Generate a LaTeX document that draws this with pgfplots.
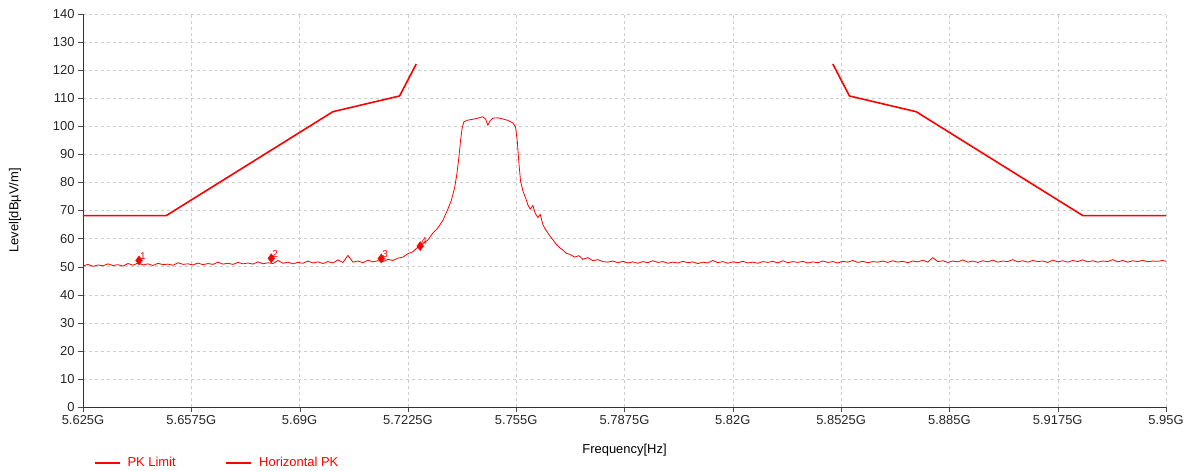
\documentclass[border=0pt]{standalone}
\usepackage{pgfplots}
\pgfplotsset{compat=1.18}
\usepackage{fontspec}
\setmainfont{Liberation Sans}

\definecolor{trace}{RGB}{255,0,0}
\definecolor{gridgray}{RGB}{205,205,205}

\begin{document}
\begin{tikzpicture}
\useasboundingbox (-83bp,-64bp) rectangle (1107bp,407bp);
\begin{axis}[
    scale only axis,
    width=1083bp, height=393bp,
    xmin=5.625, xmax=5.95,
    ymin=0, ymax=140,
    xtick={5.625,5.6575,5.69,5.7225,5.755,5.7875,5.82,5.8525,5.885,5.9175,5.95},
    xticklabels={5.625G,5.6575G,5.69G,5.7225G,5.755G,5.7875G,5.82G,5.8525G,5.885G,5.9175G,5.95G},
    ytick={0,10,...,140},
    axis x line*=bottom, axis y line*=left,
    axis line style={black!80, line width=0.8pt},
    tick align=outside,
    major tick length=5bp,
    tick style={black!70},
    xmajorgrids, ymajorgrids,
    grid style={gridgray, dashed},
    font=\fontsize{13}{15}\selectfont,
    tick label style={font=\fontsize{13}{15}\selectfont, text=black!85},
    /pgf/number format/assume math mode=true,
    xlabel={Frequency[Hz]},
    ylabel={Level[dBµV/m]},
    xlabel style={at={(axis description cs:0.5,-0.109)}, anchor=center},
    ylabel style={at={(axis description cs:-0.0628,0.5)}, anchor=center},
    legend columns=2,
    legend style={at={(axis description cs:0.010,-0.142)}, anchor=west,
        draw=none, fill=none, text=trace, font=\fontsize{13}{15}\selectfont,
        inner sep=0pt,
        /tikz/every odd column/.append style={column sep=5bp},
        /tikz/every even column/.append style={column sep=48bp}},
    legend image code/.code={\draw[#1, line width=1.5pt] (0bp,0bp) -- (25bp,0bp);},
    clip=false,
]
% limit mask
\addplot[trace, line width=1.6pt] coordinates {
 (5.625,68.2) (5.650,68.2) (5.700,105.2) (5.720,110.8) (5.725,122.2)
};
\addlegendentry{PK Limit}
\addplot[trace, line width=0.8pt] coordinates {
(5.6250,50.2) (5.6265,50.8) (5.6280,50.1) (5.6295,50.6) (5.6310,50.3) (5.6325,51.0)
(5.6340,50.4) (5.6355,50.7) (5.6370,50.2) (5.6385,51.1) (5.6400,50.5) (5.6415,51.3)
(5.6430,50.6) (5.6445,51.0) (5.6460,50.4) (5.6475,51.2) (5.6490,50.7) (5.6505,50.9)
(5.6520,50.5) (5.6535,51.4) (5.6550,50.8) (5.6565,51.0) (5.6580,50.6) (5.6595,51.3)
(5.6610,50.7) (5.6625,51.1) (5.6640,50.8) (5.6655,51.6) (5.6670,50.9) (5.6685,51.2)
(5.6700,50.8) (5.6715,51.5) (5.6730,51.0) (5.6745,51.3) (5.6760,50.9) (5.6775,51.7)
(5.6790,51.0) (5.6805,51.4) (5.6820,51.1) (5.6835,52.2) (5.6850,51.2) (5.6865,51.6)
(5.6880,51.0) (5.6895,51.5) (5.6910,51.2) (5.6925,52.0) (5.6940,51.3) (5.6955,51.7)
(5.6970,51.1) (5.6985,51.8) (5.7000,51.3) (5.7015,52.4) (5.7030,51.5) (5.7045,54.0)
(5.7060,51.6) (5.7075,52.0) (5.7090,51.4) (5.7105,52.3) (5.7120,51.7) (5.7135,52.1)
(5.7150,51.8) (5.7165,52.6) (5.7180,52.2) (5.7195,53.0) (5.7210,53.4) (5.7225,54.6)
(5.7240,55.3) (5.7255,57.0) (5.7270,58.2) (5.7285,59.5) (5.7300,62.0) (5.7315,63.8)
(5.7330,66.5) (5.7345,70.5) (5.7355,73.5) (5.7365,78.0) (5.7372,83.0) (5.7378,89.0)
(5.7383,95.0) (5.7388,99.5) (5.7393,101.6) (5.7405,102.2) (5.7420,102.5) (5.7435,102.9)
(5.7449,103.4) (5.7458,102.6) (5.7465,100.4) (5.7472,102.0) (5.7480,102.9) (5.7495,103.0)
(5.7510,102.6) (5.7525,102.1) (5.7540,101.2) (5.7548,99.8) (5.7553,95.0) (5.7558,87.0)
(5.7563,80.5) (5.7570,77.0) (5.7578,74.5) (5.7585,72.0) (5.7592,70.5) (5.7600,71.8)
(5.7607,69.0) (5.7615,67.5) (5.7622,68.6) (5.7630,65.0) (5.7637,63.4) (5.7645,62.0)
(5.7652,60.8) (5.7660,59.6) (5.7670,58.0) (5.7680,56.8) (5.7690,55.9) (5.7700,54.8)
(5.7712,54.3) (5.7725,53.4) (5.7738,53.9) (5.7750,52.6) (5.7765,53.2) (5.7780,52.1)
(5.7795,52.5) (5.7810,51.8)
(5.7825,51.6) (5.7840,52.0) (5.7855,51.4) (5.7870,51.9) (5.7885,51.3) (5.7900,51.7)
(5.7915,51.2) (5.7930,51.8) (5.7945,51.4) (5.7960,52.1) (5.7975,51.5) (5.7990,51.8)
(5.8005,51.2) (5.8020,51.6) (5.8035,51.3) (5.8050,51.9) (5.8065,51.4) (5.8080,51.7)
(5.8095,51.1) (5.8110,51.6) (5.8125,51.3) (5.8140,52.2) (5.8155,51.4) (5.8170,51.8)
(5.8185,51.2) (5.8200,51.7) (5.8215,51.4) (5.8230,51.9) (5.8245,51.3) (5.8260,51.6)
(5.8275,51.2) (5.8290,51.8) (5.8305,51.5) (5.8320,51.9) (5.8335,51.3) (5.8350,52.1)
(5.8365,51.4) (5.8380,51.8) (5.8395,51.5) (5.8410,51.9) (5.8425,51.3) (5.8440,51.7)
(5.8455,51.4) (5.8470,52.0) (5.8485,51.5) (5.8500,51.8) (5.8515,51.3) (5.8530,51.9)
(5.8545,51.6) (5.8560,52.2) (5.8575,51.5) (5.8590,51.9) (5.8605,51.4) (5.8620,51.8)
(5.8635,51.6) (5.8650,52.0) (5.8665,51.5) (5.8680,52.1) (5.8695,51.6) (5.8710,51.9)
(5.8725,51.4) (5.8740,52.0) (5.8755,51.7) (5.8770,52.3) (5.8785,51.6) (5.8800,53.2)
(5.8815,51.8) (5.8830,52.1) (5.8845,51.5) (5.8860,52.0) (5.8875,51.7) (5.8890,52.4)
(5.8905,51.6) (5.8920,52.0) (5.8935,51.5) (5.8950,52.1) (5.8965,51.7) (5.8980,52.3)
(5.8995,51.6) (5.9010,52.0) (5.9025,51.8) (5.9040,52.5) (5.9055,51.7) (5.9070,52.1)
(5.9085,51.6) (5.9100,52.2) (5.9115,51.8) (5.9130,52.0) (5.9145,51.5) (5.9160,52.3)
(5.9175,51.7) (5.9190,52.1) (5.9205,51.6) (5.9220,52.2) (5.9235,51.8) (5.9250,52.4)
(5.9265,51.7) (5.9280,52.1) (5.9295,51.6) (5.9310,52.0) (5.9325,51.8) (5.9340,52.5)
(5.9355,51.7) (5.9370,52.2) (5.9385,51.6) (5.9400,52.1) (5.9415,51.8) (5.9430,52.3)
(5.9445,51.7) (5.9460,52.0) (5.9475,51.9) (5.9490,52.2) (5.9500,51.9)
};
\addlegendentry{Horizontal PK}
% limit mask, upper band edge
\addplot[trace, line width=1.6pt, forget plot] coordinates {
 (5.850,122.2) (5.855,110.8) (5.875,105.2) (5.925,68.2) (5.950,68.2)
};
% markers
\addplot[only marks, mark=diamond*, mark size=4.5bp, trace, forget plot,
    nodes near coords, point meta=explicit symbolic,
    nodes near coords style={font=\fontsize{10}{11}\selectfont, text=trace,
        anchor=south west, inner sep=1pt}]
 table[meta=label] {
 x y label
 5.6418 52.2 1
 5.6815 53.0 2
 5.7145 52.9 3
 5.7262 57.3 4
};
\end{axis}
\end{tikzpicture}
\end{document}
